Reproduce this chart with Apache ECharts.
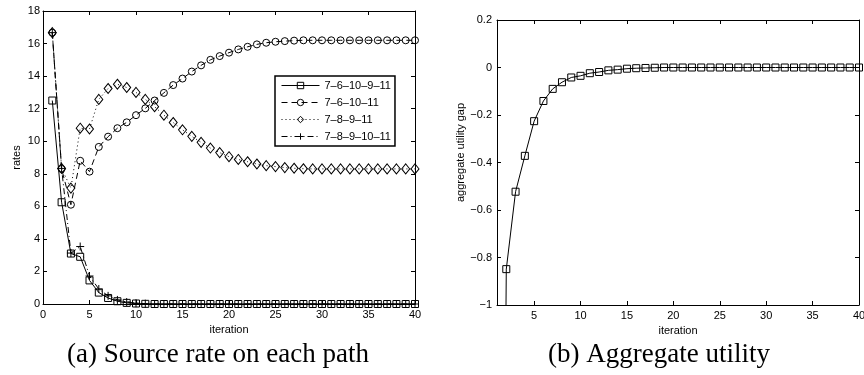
<!DOCTYPE html>
<html>
<head>
<meta charset="utf-8">
<script src="https://cdn.jsdelivr.net/npm/echarts@6/dist/echarts.min.js"></script>
<style>
  html, body { margin: 0; padding: 0; background: #fff; }
  #chart { width: 864px; height: 375px; }
</style>
</head>
<body>
<div id="chart"></div>
<script>
// iterations 1..40
const iterations = [1, 2, 3, 4, 5, 6, 7, 8, 9, 10, 11, 12, 13, 14, 15, 16, 17, 18, 19, 20,
  21, 22, 23, 24, 25, 26, 27, 28, 29, 30, 31, 32, 33, 34, 35, 36, 37, 38, 39, 40];

// (a) source rate on each path
const path1 = [12.5, 6.25, 3.1, 2.9, 1.45, 0.7, 0.37, 0.17, 0.07, 0.03, 0.01, 0, 0, 0, 0, 0, 0, 0, 0, 0,
  0, 0, 0, 0, 0, 0, 0, 0, 0, 0, 0, 0, 0, 0, 0, 0, 0, 0, 0, 0];
const path2 = [16.67, 8.3, 6.1, 8.8, 8.13, 9.65, 10.28, 10.8, 11.16, 11.6, 12.02, 12.5, 12.97, 13.45, 13.85, 14.28, 14.66, 15.0, 15.23, 15.44,
  15.64, 15.8, 15.95, 16.05, 16.11, 16.15, 16.18, 16.2, 16.2, 16.2, 16.2, 16.2, 16.2, 16.2, 16.2, 16.2, 16.2, 16.2, 16.2, 16.2];
const path3 = [16.67, 8.33, 7.12, 10.8, 10.75, 12.57, 13.24, 13.5, 13.3, 13.0, 12.57, 12.12, 11.6, 11.15, 10.7, 10.3, 9.93, 9.58, 9.3, 9.05,
  8.88, 8.74, 8.6, 8.5, 8.44, 8.38, 8.34, 8.31, 8.3, 8.3, 8.3, 8.3, 8.3, 8.3, 8.3, 8.3, 8.3, 8.3, 8.3, 8.3];
const path4 = [16.67, 8.33, 3.13, 3.53, 1.72, 0.92, 0.5, 0.25, 0.12, 0.05, 0.02, 0, 0, 0, 0, 0, 0, 0, 0, 0,
  0, 0, 0, 0, 0, 0, 0, 0, 0, 0, 0, 0, 0, 0, 0, 0, 0, 0, 0, 0];
const pathNames = ['7–6–10–9–11', '7–6–10–11', '7–8–9–11', '7–8–9–10–11'];

// (b) aggregate utility gap
const utilityGap = [-6, -0.849, -0.523, -0.372, -0.226, -0.141, -0.09, -0.062, -0.042, -0.035, -0.024, -0.019, -0.012, -0.009, -0.005, -0.003, -0.002, -0.001, 0, 0,
  0, 0, 0, 0, 0, 0, 0, 0, 0, 0, 0, 0, 0, 0, 0, 0, 0, 0, 0, 0];

const xTicksB = [5, 10, 15, 20, 25, 30, 35, 40];
const captions = ['(a) Source rate on each path', '(b) Aggregate utility'];

const sans = "'Liberation Sans Narrow', 'Liberation Sans', sans-serif";
const pairs = ys => iterations.map((x, i) => [x, ys[i]]);
const minus = v => String(Math.round(v * 10) / 10).replace('-', '−');

const tick = {show: true, inside: true, length: 4, lineStyle: {color: '#000', width: 1}};
const line = {show: true, onZero: false, lineStyle: {color: '#000', width: 1}};
const label = {color: '#000', fontFamily: sans, fontSize: 11};
const frame = (gridIndex, position, extra) => Object.assign({
  type: 'value', gridIndex, position,
  axisLine: line, axisTick: tick, axisLabel: {show: false}, splitLine: {show: false}
}, extra);

const hollow = {color: 'rgba(0,0,0,0)', borderColor: '#000', borderWidth: 1};
const plus = 'path://M0,5L10,5M5,0L5,10';

const chart = echarts.init(document.getElementById('chart'));
chart.setOption({
  animation: false,
  backgroundColor: '#fff',
  grid: [
    {left: 43, top: 11, width: 372, height: 293, outerBoundsMode: 'none'},
    {left: 497, top: 20, width: 362, height: 285, outerBoundsMode: 'none'}
  ],
  xAxis: [
    frame(0, 'bottom', {min: 0, max: 40, interval: 5,
      axisLabel: Object.assign({margin: 5}, label),
      name: 'iteration', nameLocation: 'middle', nameGap: 20,
      nameTextStyle: {color: '#000', fontFamily: sans, fontSize: 11}}),
    frame(0, 'top', {min: 0, max: 40, interval: 5}),
    frame(1, 'bottom', {min: 1, max: 40,
      axisTick: Object.assign({customValues: xTicksB}, tick),
      axisLabel: Object.assign({margin: 5, customValues: xTicksB}, label),
      name: 'iteration', nameLocation: 'middle', nameGap: 19,
      nameTextStyle: {color: '#000', fontFamily: sans, fontSize: 11}}),
    frame(1, 'top', {min: 1, max: 40,
      axisTick: Object.assign({customValues: xTicksB}, tick)})
  ],
  yAxis: [
    frame(0, 'left', {min: 0, max: 18, interval: 2,
      axisLabel: Object.assign({margin: 3}, label),
      name: 'rates', nameLocation: 'middle', nameGap: 21,
      nameTextStyle: {color: '#000', fontFamily: sans, fontSize: 11}}),
    frame(0, 'right', {min: 0, max: 18, interval: 2}),
    frame(1, 'left', {min: -1, max: 0.2, interval: 0.2,
      axisLabel: Object.assign({margin: 5, formatter: minus}, label),
      name: 'aggregate utility gap', nameLocation: 'middle', nameGap: 29,
      nameTextStyle: {color: '#000', fontFamily: sans, fontSize: 11, padding: [0, 0, 0, 20]}}),
    frame(1, 'right', {min: -1, max: 0.2, interval: 0.2})
  ],
  legend: {
    left: 275, top: 76, orient: 'vertical',
    padding: [4, 4, 4, 6], itemGap: 6, itemWidth: 38, itemHeight: 8,
    backgroundColor: '#fff', borderColor: '#000', borderWidth: 1.5,
    lineStyle: {width: 1},
    itemStyle: {borderWidth: 1},
    textStyle: {color: '#000', fontFamily: sans, fontSize: 11},
    data: pathNames
  },
  series: [
    {name: pathNames[0], type: 'line', xAxisIndex: 0, yAxisIndex: 0, data: pairs(path1),
      symbol: 'rect', symbolSize: 7, itemStyle: hollow,
      lineStyle: {color: '#000', width: 1, type: 'solid'}},
    {name: pathNames[1], type: 'line', xAxisIndex: 0, yAxisIndex: 0, data: pairs(path2),
      symbol: 'circle', symbolSize: 7, itemStyle: hollow,
      lineStyle: {color: '#000', width: 1, type: [6, 4]}},
    {name: pathNames[2], type: 'line', xAxisIndex: 0, yAxisIndex: 0, data: pairs(path3),
      symbol: 'diamond', symbolSize: [8, 10], itemStyle: hollow,
      lineStyle: {color: '#000', width: 1, type: [1, 3]}},
    {name: pathNames[3], type: 'line', xAxisIndex: 0, yAxisIndex: 0, data: pairs(path4),
      symbol: plus, symbolSize: 8, itemStyle: hollow,
      lineStyle: {color: '#000', width: 1, type: [6, 3, 1, 3]}},
    {name: 'gap', type: 'line', xAxisIndex: 2, yAxisIndex: 2, data: pairs(utilityGap),
      symbol: 'rect', symbolSize: 7, itemStyle: hollow, clip: true,
      lineStyle: {color: '#000', width: 1}}
  ],
  graphic: [
    {type: 'text', style: {text: captions[0], x: 218, y: 355, align: 'center', verticalAlign: 'middle',
      fill: '#000', font: "27px 'Liberation Serif', serif"}},
    {type: 'text', style: {text: captions[1], x: 659, y: 355, align: 'center', verticalAlign: 'middle',
      fill: '#000', font: "27px 'Liberation Serif', serif"}}
  ]
});
</script>
</body>
</html>
